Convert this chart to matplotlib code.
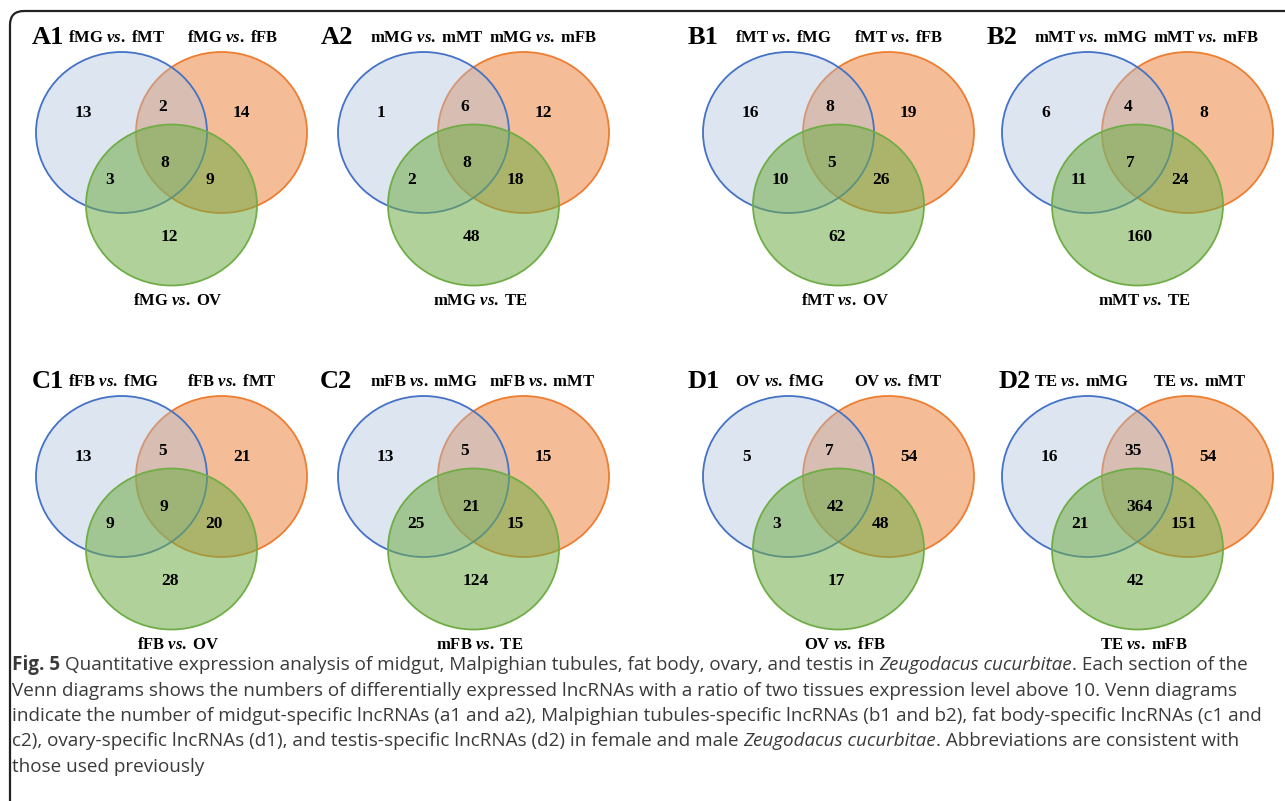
import matplotlib
matplotlib.use('Agg')
import matplotlib.pyplot as plt
from matplotlib.patches import Ellipse, FancyBboxPatch

# "vs." is set in bold italic Times-like serif through mathtext
plt.rcParams['mathtext.fontset'] = 'custom'
plt.rcParams['mathtext.it'] = 'Liberation Serif:italic:bold'
plt.rcParams['mathtext.rm'] = 'Liberation Serif:bold'

panel_tags = ['A1', 'A2', 'B1', 'B2', 'C1', 'C2', 'D1', 'D2']

# comparison names for (upper left, upper right, lower) circle
set_names = [
    ('fMG', 'fMT', 'fFB', 'OV'),
    ('mMG', 'mMT', 'mFB', 'TE'),
    ('fMT', 'fMG', 'fFB', 'OV'),
    ('mMT', 'mMG', 'mFB', 'TE'),
    ('fFB', 'fMG', 'fMT', 'OV'),
    ('mFB', 'mMG', 'mMT', 'TE'),
    ('OV', 'fMG', 'fMT', 'fFB'),
    ('TE', 'mMG', 'mMT', 'mFB'),
]

# region counts: only L, L&R, only R, L&B, L&R&B, R&B, only B
counts = [
    [13, 2, 14, 3, 8, 9, 12],
    [1, 6, 12, 2, 8, 18, 48],
    [16, 8, 19, 10, 5, 26, 62],
    [6, 4, 8, 11, 7, 24, 160],
    [13, 5, 21, 9, 9, 20, 28],
    [13, 5, 15, 25, 21, 15, 124],
    [5, 7, 54, 3, 42, 48, 17],
    [16, 35, 54, 21, 364, 151, 42],
]

caption = [
    [('Fig. 5', 'bold'),
     ('Quantitative expression analysis of midgut, Malpighian tubules, fat body, ovary, and testis in', 'normal'),
     ('Zeugodacus cucurbitae', 'italic'),
     ('. Each section of the', 'tight')],
    [('Venn diagrams shows the numbers of differentially expressed lncRNAs with a ratio of two tissues expression level above 10. Venn diagrams', 'normal')],
    [('indicate the number of midgut-specific lncRNAs (a1 and a2), Malpighian tubules-specific lncRNAs (b1 and b2), fat body-specific lncRNAs (c1 and', 'normal')],
    [('c2), ovary-specific lncRNAs (d1), and testis-specific lncRNAs (d2) in female and male', 'normal'),
     ('Zeugodacus cucurbitae', 'italic'),
     ('. Abbreviations are consistent with', 'tight')],
    [('those used previously', 'normal')],
]

W, H = 1285, 801
fig = plt.figure(figsize=(W / 100, H / 100), dpi=100)
ax = fig.add_axes([0, 0, 1, 1])
ax.set_xlim(0, W)
ax.set_ylim(H, 0)
ax.set_aspect('equal')
ax.axis('off')

frame = FancyBboxPatch((10, 11), 1400, 900, boxstyle='round,pad=0,rounding_size=14',
                       fc='none', ec='#222222', lw=1.6, zorder=0)
ax.add_patch(frame)

col_x = [36, 338, 703, 1002]
row_y = [52, 396]
tag_x = [32, 321, 688, 987, 32, 320, 688, 999]
ew, eh = 171, 161

# where each count sits, relative to the panel corner (left aligned)
num_dx = [39, 122, 197, 69, 124, 169, 125]
num_dy = [61, 55, 61, 128, 111, 128, 185]

serif = 'Liberation Serif'

for i, tag in enumerate(panel_tags):
    ox = col_x[i % 4]
    oy = row_y[i // 4]
    main, left, right, bottom = set_names[i]

    # orange first, blue over it, green on top
    ax.add_patch(Ellipse((ox + 185.5, oy + 80.5), ew, eh, fc='#ED7D31', alpha=0.5, lw=0, zorder=1))
    ax.add_patch(Ellipse((ox + 185.5, oy + 80.5), ew, eh, fc='none', ec='#ED7D31', lw=1.3, zorder=1))
    ax.add_patch(Ellipse((ox + 85.5, oy + 80.5), ew, eh, fc='#ACBEDC', alpha=0.4, lw=0, zorder=2))
    ax.add_patch(Ellipse((ox + 85.5, oy + 80.5), ew, eh, fc='none', ec='#4472C4', lw=1.3, zorder=2))
    ax.add_patch(Ellipse((ox + 135.5, oy + 153), ew, eh, fc='#70AD47', alpha=0.55, lw=0, zorder=3))
    ax.add_patch(Ellipse((ox + 135.5, oy + 153), ew, eh, fc='none', ec='#70AD47', lw=1.3, zorder=3))

    for k, n in enumerate(counts[i]):
        ax.text(ox + num_dx[k], oy + num_dy[k], str(n), ha='left', va='center',
                family=serif, weight='bold', fontsize=12.5, zorder=5)

    ax.text(tag_x[i], oy - 15, tag, ha='left', va='center', family=serif,
            weight='bold', fontsize=19)
    ax.text(ox + 32, oy - 14, main + r' $\mathit{vs.}$ ' + left, ha='left', va='center',
            family=serif, weight='bold', fontsize=12)
    ax.text(ox + 151, oy - 14, main + r' $\mathit{vs.}$ ' + right, ha='left', va='center',
            family=serif, weight='bold', fontsize=12)
    ax.text(ox + 142, oy + 249, main + r' $\mathit{vs.}$ ' + bottom, ha='center', va='center',
            family=serif, weight='bold', fontsize=12)

# caption, drawn run by run so bold and italic pieces can sit in one line
renderer = fig.canvas.get_renderer()
cap_font = dict(family='Open Sans', fontsize=13.6, color='#3a3a3a')


def text_width(s, **kw):
    t = ax.text(0, 0, s + '|', **kw)
    bar = ax.text(0, 0, '|', **kw)
    w = t.get_window_extent(renderer).width - bar.get_window_extent(renderer).width
    t.remove()
    bar.remove()
    return w


space = text_width(' ', **cap_font)
line_y = [665, 690.5, 716, 741.5, 767]
for y, runs in zip(line_y, caption):
    x = 12
    for j, (s, style) in enumerate(runs):
        kw = dict(cap_font)
        if style == 'bold':
            kw['weight'] = 'bold'
        elif style == 'italic':
            kw['style'] = 'italic'
        if j > 0 and style != 'tight':
            x += space
        ax.text(x, y, s, ha='left', va='center', **kw)
        x += text_width(s, **kw)

fig.savefig('out.png', dpi=100)
